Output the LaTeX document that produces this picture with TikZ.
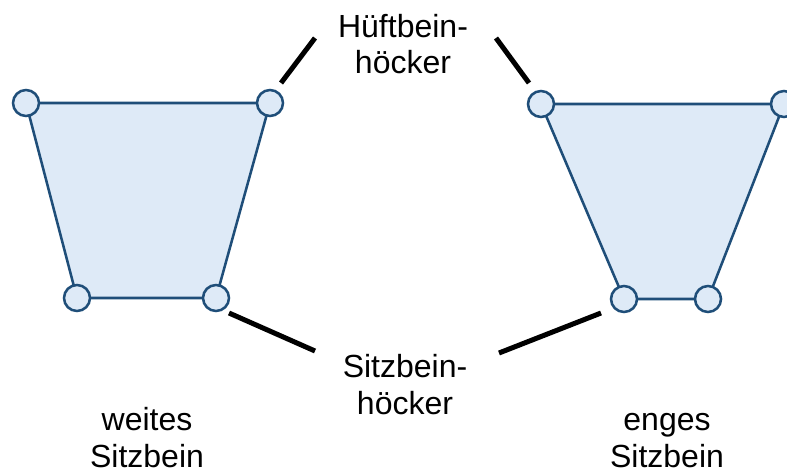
\documentclass[tikz,border=0pt]{standalone}
\usepackage{fontspec}
\setmainfont{Liberation Sans}
\definecolor{edge}{HTML}{1F4E79}
\definecolor{fillc}{HTML}{DEEAF7}
\begin{document}
\begin{tikzpicture}[x=0.75pt,y=-0.75pt,
  joint/.style={circle,draw=edge,fill=fillc,line width=1.9pt,minimum size=19.5pt,inner sep=0pt},
  pelvis/.style={draw=edge,fill=fillc,line width=1.9pt,line join=round},
  lbl/.style={font=\fontsize{24pt}{27.3pt}\selectfont,align=center,anchor=base,inner sep=0pt},
  pointer/.style={line width=3.75pt}]
\useasboundingbox (0,0) rectangle (787,470);
% left pelvis
\coordinate (la) at (26,103);
\coordinate (lb) at (270,103);
\coordinate (lc) at (216,298);
\coordinate (ld) at (77,298);
\draw[pelvis] (la) -- (lb) -- (lc) -- (ld) -- cycle;
\node[joint] (LA) at (la) {};
\node[joint] (LB) at (lb) {};
\node[joint] (LC) at (lc) {};
\node[joint] (LD) at (ld) {};
% right pelvis
\coordinate (ra) at (541,104);
\coordinate (rb) at (784,104);
\coordinate (rc) at (708,299);
\coordinate (rd) at (624,299);
\draw[pelvis] (ra) -- (rb) -- (rc) -- (rd) -- cycle;
\node[joint] (RA) at (ra) {};
\node[joint] (RB) at (rb) {};
\node[joint] (RC) at (rc) {};
\node[joint] (RD) at (rd) {};
% labels (anchor = baseline of the last line)
\node[lbl] (hue) at (403,74) {Hüftbein-\\höcker};
\node[lbl] (sitz) at (405,414) {Sitzbein-\\höcker};
\node[lbl] (weit) at (147,467) {weites\\Sitzbein};
\node[lbl] (eng) at (667,467) {enges\\Sitzbein};
% pointer lines
\coordinate (p1a) at (281,83);
\coordinate (p1b) at (315,38);
\coordinate (p2a) at (496,38);
\coordinate (p2b) at (529,83);
\coordinate (p3a) at (229,313);
\coordinate (p3b) at (315,351);
\coordinate (p4a) at (499,353);
\coordinate (p4b) at (601,313);
\draw[pointer] (p1a) -- (p1b);
\draw[pointer] (p2a) -- (p2b);
\draw[pointer] (p3a) -- (p3b);
\draw[pointer] (p4a) -- (p4b);
\end{tikzpicture}
\end{document}
